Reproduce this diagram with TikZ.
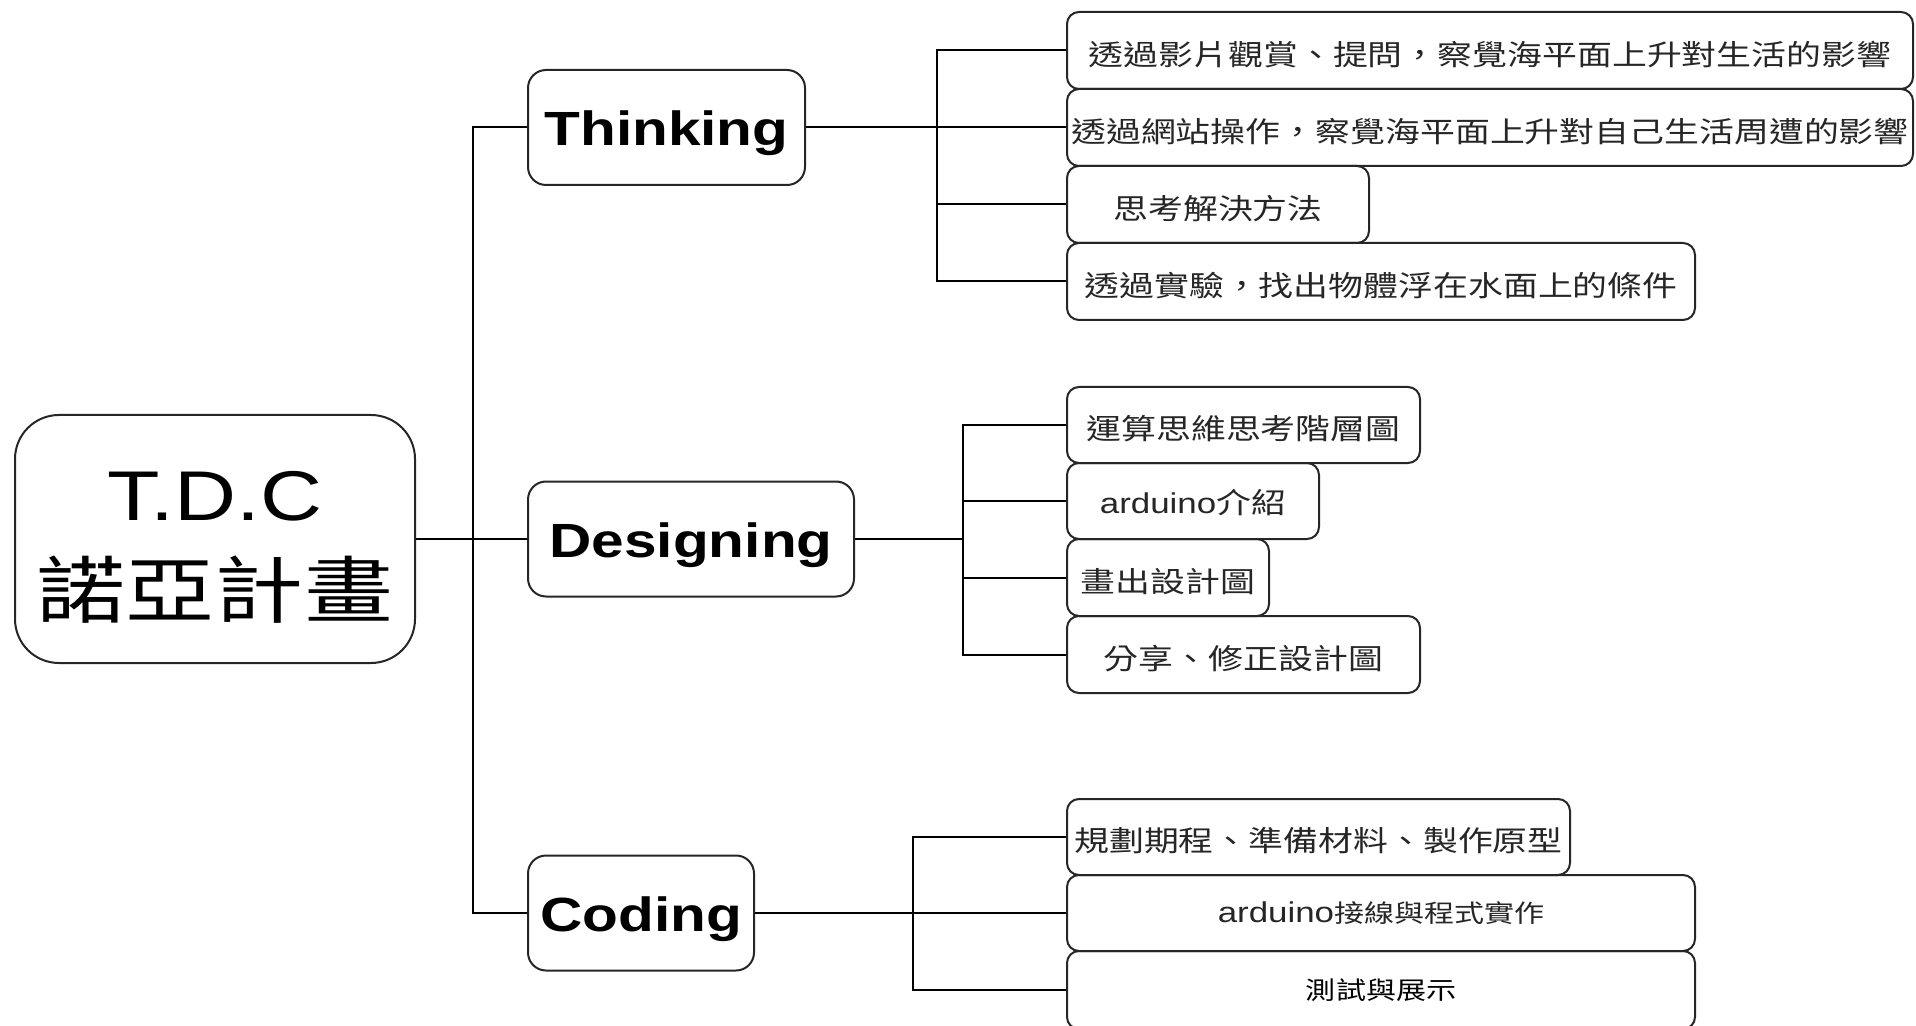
\documentclass[tikz,border=0pt]{standalone}
\usepackage{fontspec}
\setmainfont{Liberation Sans}[FakeStretch=1.22]
\newfontfamily\cjk{Noto Sans CJK TC}[FakeStretch=1.22]
\begin{document}
\begin{tikzpicture}[x=0.5pt,y=-0.5pt,
  leaf/.style={draw=black!85, line width=1pt, rounded corners=6pt, inner sep=0pt,
    minimum height=38.5pt, font=\fontsize{14.3}{17}\selectfont, text=black!85},
  cjkleaf/.style={leaf, text height=15.5pt, text depth=0.6pt},
  branch/.style={draw=black!85, line width=1pt, rounded corners=9pt, inner sep=0pt,
    minimum height=57.5pt, text height=18pt, text depth=0pt,
    font=\fontsize{24}{28}\selectfont\bfseries},
  link/.style={line width=1pt, draw=black}]
\useasboundingbox (0,0) rectangle (1916,1026);

% root
\node[draw=black!85, line width=1pt, rounded corners=22pt, minimum width=200pt,
  minimum height=124pt, inner sep=0pt, align=center,
  font=\fontsize{35.2}{48.5}\selectfont] (root) at (215,539)
  {\raisebox{-4pt}[\height][\depth]{T.D.C}\\\raisebox{-4pt}[\height][\depth]{\cjk\fontsize{36.5}{48.5}\selectfont 諾亞計畫}};

% branches
\node[branch, minimum width=138.5pt] (thinking) at (666.5,127.5) {Thinking};
\node[branch, minimum width=163pt] (designing) at (691,539) {Designing};
\node[branch, minimum width=113pt] (coding) at (641,913) {Coding};

% Thinking leaves
\node[cjkleaf, minimum width=423pt] (t1) at (1490,50.5) {\cjk 透過影片觀賞、提問，察覺海平面上升對生活的影響};
\node[cjkleaf, minimum width=423pt] (t2) at (1490,127.5) {\cjk 透過網站操作，察覺海平面上升對自己生活周遭的影響};
\node[cjkleaf, minimum width=151pt] (t3) at (1218,204.5) {\cjk 思考解決方法};
\node[cjkleaf, minimum width=314pt] (t4) at (1381,281.5) {\cjk 透過實驗，找出物體浮在水面上的條件};

% Designing leaves
\node[cjkleaf, minimum width=176.5pt, minimum height=38pt] (d1) at (1243.5,425) {\cjk 運算思維思考階層圖};
\node[leaf, minimum width=126pt, minimum height=38pt, text height=13.5pt, text depth=0.6pt] (d2) at (1193,501) {arduino{\cjk 介紹}};
\node[cjkleaf, minimum width=101pt] (d3) at (1168,577.5) {\cjk 畫出設計圖};
\node[cjkleaf, minimum width=176.5pt] (d4) at (1243.5,654.5) {\cjk 分享、修正設計圖};

% Coding leaves
\node[cjkleaf, minimum width=251.5pt, minimum height=38pt] (c1) at (1318.5,837) {\cjk 規劃期程、準備材料、製作原型};
\node[leaf, minimum width=314pt, minimum height=38pt] (c2) at (1381,913) {arduino{\cjk\fontsize{12.3}{15}\selectfont 接線與程式實作}};
\node[leaf, minimum width=314pt, minimum height=39pt, text=black] (c3) at (1381,990) {\cjk\fontsize{12.3}{15}\selectfont 測試與展示};

% trunk coordinates
\coordinate (tr) at (473,0);
\coordinate (ts) at (937,0);
\coordinate (ds) at (963,0);
\coordinate (cs) at (913,0);

% connectors
\draw[link] (root.east) -- (designing.west);
\draw[link] (thinking.west) -- (thinking.west -| tr) -- (coding.west -| tr) -- (coding.west);

\draw[link] (thinking.east) -- (t2.west);
\draw[link] (t1.west) -- (t1.west -| ts) -- (t4.west -| ts) -- (t4.west);
\draw[link] (t3.west -| ts) -- (t3.west);

\draw[link] (designing.east) -- (designing.east -| ds);
\draw[link] (d1.west) -- (d1.west -| ds) -- (d4.west -| ds) -- (d4.west);
\draw[link] (d2.west -| ds) -- (d2.west);
\draw[link] (d3.west -| ds) -- (d3.west);

\draw[link] (coding.east) -- (c2.west);
\draw[link] (c1.west) -- (c1.west -| cs) -- (c3.west -| cs) -- (c3.west);
\end{tikzpicture}
\end{document}
